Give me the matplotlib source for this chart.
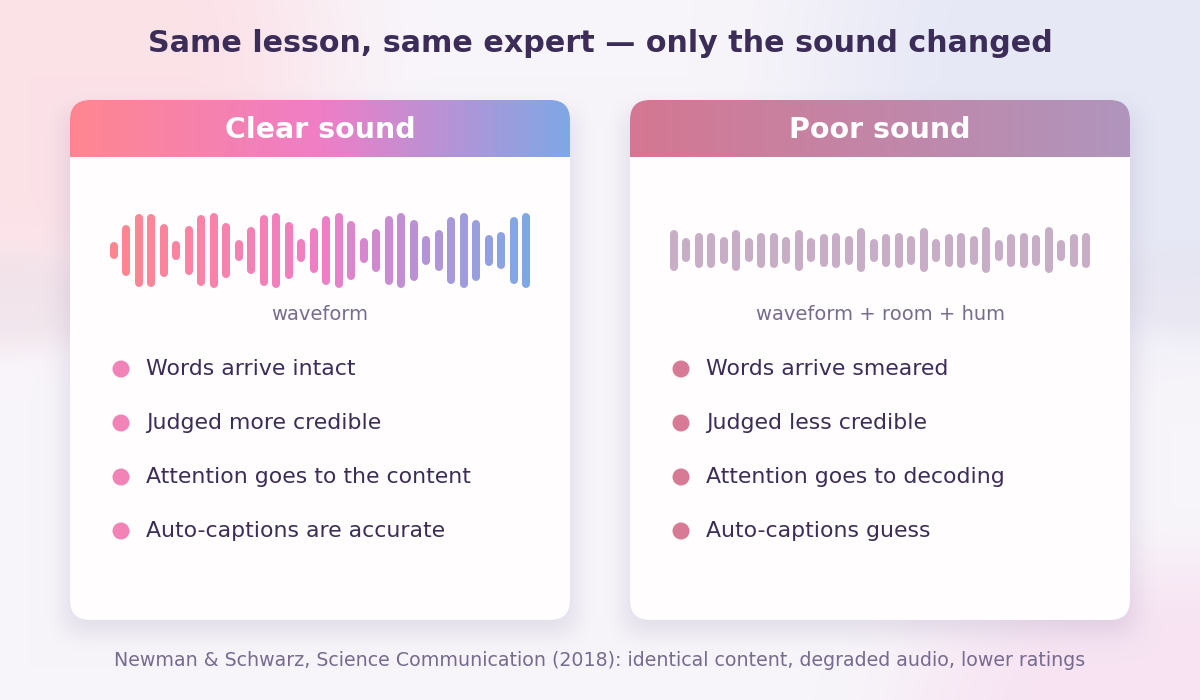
import numpy as np
import matplotlib
matplotlib.use("Agg")
import matplotlib.pyplot as plt
from matplotlib.patches import FancyBboxPatch, Circle
from matplotlib.colors import to_rgb, LinearSegmentedColormap

# ---------------- data ----------------
title = "Same lesson, same expert \u2014 only the sound changed"
footer = "Newman & Schwarz, Science Communication (2018): identical content, degraded audio, lower ratings"

panel_titles = ["Clear sound", "Poor sound"]
wave_labels = ["waveform", "waveform + room + hum"]

clear_points = ["Words arrive intact", "Judged more credible",
                "Attention goes to the content", "Auto-captions are accurate"]
poor_points = ["Words arrive smeared", "Judged less credible",
               "Attention goes to decoding", "Auto-captions guess"]

# bar heights (px, incl. rounded caps)
clear_wave = [17, 51, 73, 73, 53, 19, 49, 71, 75, 55, 21, 47, 71, 75, 57, 23, 45,
              69, 75, 59, 25, 43, 69, 75, 61, 29, 41, 67, 75, 61, 31, 37, 67, 75]
poor_wave = [41, 24, 35, 35, 27, 41, 24, 35, 35, 27, 41, 24, 33, 35, 29, 44, 23,
             33, 35, 29, 44, 23, 33, 35, 29, 46, 21, 33, 35, 31, 46, 21, 33, 35]

# ---------------- styling ----------------
W, H = 1200, 700
DARK = "#3b2d58"
MUTED = "#776b8f"
clear_grad = ["#ff8690", "#ef7ec6", "#7ea8e5"]
poor_grad = ["#d47792", "#b095bd"]
clear_dot = "#f283b6"
poor_dot = "#d67a96"
poor_bar = "#c7adc5"

fig = plt.figure(figsize=(12, 7), dpi=100)
ax = fig.add_axes([0, 0, 1, 1])
ax.set_xlim(0, W)
ax.set_ylim(H, 0)
ax.axis("off")

# ---------------- background ----------------
yy, xx = np.mgrid[0:H, 0:W].astype(float)
bg = np.ones((H, W, 3)) * np.array(to_rgb("#f8f5fa"))


def smoothstep(e0, e1, v):
    t = np.clip((v - e0) / (e1 - e0), 0, 1)
    return t * t * (3 - 2 * t)


def soft_blob(cx, cy, rx, ry, color, strength, lo=0.55, hi=1.35):
    global bg
    d = np.sqrt(((xx - cx) / rx) ** 2 + ((yy - cy) / ry) ** 2)
    w = (strength * (1 - smoothstep(lo, hi, d)))[..., None]
    bg = bg * (1 - w) + np.array(to_rgb(color)) * w


soft_blob(20, 60, 310, 250, "#fce1e7", 0.95)
soft_blob(0, 300, 110, 50, "#ecdfe7", 0.55)
soft_blob(1160, 60, 350, 270, "#e6e8f6", 0.95)
soft_blob(1200, 290, 90, 50, "#e2e0ec", 0.45)
soft_blob(1190, 710, 280, 150, "#f7e2f2", 0.9)


def box_blur(a, r):
    for axis in (0, 1):
        pad = [(r + 1, r) if i == axis else (0, 0) for i in range(2)]
        c = np.cumsum(np.pad(a, pad, mode="edge"), axis=axis)
        if axis == 0:
            a = (c[2 * r + 1:] - c[:-2 * r - 1]) / (2 * r + 1)
        else:
            a = (c[:, 2 * r + 1:] - c[:, :-2 * r - 1]) / (2 * r + 1)
    return a


cards = [(70, 100, 500, 520), (630, 100, 500, 520)]
mask = np.zeros((H, W))
for (x0, y0, cw, ch) in cards:
    mask[y0 + 12:y0 + ch + 12, x0 - 4:x0 + cw + 4] = 1.0
for _ in range(3):
    mask = box_blur(mask, 12)
shadow = np.array(to_rgb("#6a5a8a"))
a = (mask * 0.17)[..., None]
bg = bg * (1 - a) + shadow * a
ax.imshow(bg, extent=(0, W, H, 0), zorder=0, interpolation="bilinear")

# ---------------- cards ----------------
grads = [clear_grad, poor_grad]
for k, (x0, y0, cw, ch) in enumerate(cards):
    card = FancyBboxPatch((x0, y0), cw, ch, boxstyle="round,pad=0,rounding_size=20",
                          facecolor="#fffdfe", edgecolor="none", zorder=2)
    ax.add_patch(card)
    cmap = LinearSegmentedColormap.from_list("g%d" % k, grads[k])
    grad = np.linspace(0, 1, 256)[None, :]
    im = ax.imshow(grad, cmap=cmap, extent=(x0, x0 + cw, y0 + 57, y0),
                   aspect="auto", zorder=3, interpolation="bilinear")
    im.set_clip_path(card)
    ax.text(x0 + cw / 2, y0 + 30, panel_titles[k], ha="center", va="center",
            fontsize=20.5, fontweight="bold", color="white", zorder=4)

# ---------------- waveforms ----------------
bar_lw_px = 8
lw_pt = bar_lw_px * 72 / 100
step = 12.5
mid_y = 250
for k, (wave, (x0, y0, cw, ch)) in enumerate(zip([clear_wave, poor_wave], cards)):
    n = len(wave)
    xs = x0 + cw / 2 + (np.arange(n) - (n - 1) / 2) * step
    hs = np.array(wave, dtype=float) - bar_lw_px
    if k == 0:
        cm = LinearSegmentedColormap.from_list("wave", clear_grad)
        cols = [cm(i / (n - 1)) for i in range(n)]
    else:
        cols = [poor_bar] * n
    ax.vlines(xs, mid_y - hs / 2, mid_y + hs / 2, colors=cols, linewidth=lw_pt,
              capstyle="round", zorder=5)
    ax.text(x0 + cw / 2, 314, wave_labels[k], ha="center", va="center",
            fontsize=14, color=MUTED, zorder=5)

# ---------------- bullet lists ----------------
bullet_y = [369, 423, 477, 531]
for k, (pts, dot) in enumerate(zip([clear_points, poor_points], [clear_dot, poor_dot])):
    x0 = cards[k][0]
    for yb, txt in zip(bullet_y, pts):
        ax.add_patch(Circle((x0 + 51, yb), 8.5, facecolor=dot, edgecolor="none", zorder=5))
        ax.text(x0 + 76, yb, txt, ha="left", va="center", fontsize=15.8,
                color=DARK, zorder=5)

# ---------------- title / footer ----------------
ax.text(W / 2, 44, title, ha="center", va="center", fontsize=21.7,
        fontweight="bold", color=DARK, zorder=6)
ax.text(W / 2, 661, footer, ha="center", va="center", fontsize=13.7,
        color=MUTED, zorder=6)

fig.savefig("out.png", dpi=100)
